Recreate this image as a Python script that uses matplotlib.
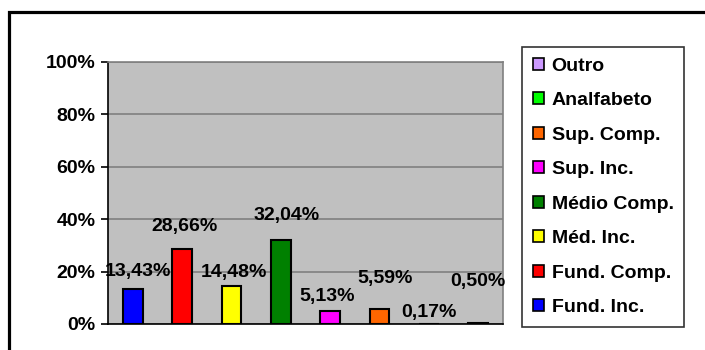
import matplotlib.pyplot as plt
from matplotlib.patches import Patch, Rectangle

plt.rcParams['font.family'] = ['Liberation Sans', 'DejaVu Sans']
plt.rcParams['font.weight'] = 'bold'

# dados
categorias = ['Fund. Inc.', 'Fund. Comp.', 'Méd. Inc.', 'Médio Comp.',
              'Sup. Inc.', 'Sup. Comp.', 'Analfabeto', 'Outro']
valores = [13.43, 28.66, 14.48, 32.04, 5.13, 5.59, 0.17, 0.50]
rotulos = ['13,43%', '28,66%', '14,48%', '32,04%', '5,13%', '5,59%', '0,17%', '0,50%']
cores = ['#0000FF', '#FF0000', '#FFFF00', '#008000',
         '#FF00FF', '#FF6600', '#00FF00', '#CC99FF']
yticks = [0, 20, 40, 60, 80, 100]

# deslocamento dos rótulos (pixels) em relação ao topo da barra
desloc = [(5, 17), (2, 22), (3, 14), (6, 25), (-3, 14), (5, 31), (0, 11), (0, 41)]

fig = plt.figure(figsize=(7.05, 3.5), dpi=100)
ax = fig.add_axes([108 / 705, 26 / 350, 395 / 705, 262 / 350])
ax.set_facecolor('#C0C0C0')

x = range(len(categorias))
barras = ax.bar(x, valores, width=0.4, color=cores, edgecolor='black', linewidth=1.5, zorder=3)

for i, v in enumerate(valores):
    dx, dy = desloc[i]
    ax.annotate(rotulos[i], (i, v), xytext=(dx * 0.72, dy * 0.72), textcoords='offset points',
                ha='center', va='center', fontsize=14, fontweight='bold', zorder=4)

ax.set_xlim(-0.5, 7.5)
ax.set_ylim(0, 100)
ax.set_yticks(yticks)
ax.set_yticklabels([f'{t}%' for t in yticks], fontsize=14, fontweight='bold')
ax.set_xticks([])
ax.yaxis.grid(True, color='#808080', linewidth=1.2, zorder=0)
ax.set_axisbelow(True)
ax.tick_params(axis='y', direction='out', length=5, width=1.2, pad=4, color='black')
for s in ['top', 'right']:
    ax.spines[s].set_color('#808080')
    ax.spines[s].set_linewidth(1.2)
for s in ['left', 'bottom']:
    ax.spines[s].set_color('black')
    ax.spines[s].set_linewidth(1.2)

# legenda (ordem invertida)
handles = [Patch(facecolor=c, edgecolor='black', linewidth=1.2) for c in cores][::-1]
leg = fig.legend(handles, categorias[::-1], loc='upper left',
                 bbox_to_anchor=(522 / 705, 1 - 47 / 350), frameon=True, fancybox=False,
                 edgecolor='black', prop={'weight': 'bold', 'size': 14},
                 handlelength=0.57, handleheight=0.57, handletextpad=0.4,
                 labelspacing=0.9, borderpad=0.55, borderaxespad=0)
leg.get_frame().set_linewidth(1.2)

# moldura externa
fig.patches.append(Rectangle((8.5 / 705, -0.2), 1.2, 1.2 - 11.5 / 350,
                             transform=fig.transFigure, fill=False,
                             edgecolor='black', linewidth=2.3))

fig.savefig('out.png', dpi=100)
